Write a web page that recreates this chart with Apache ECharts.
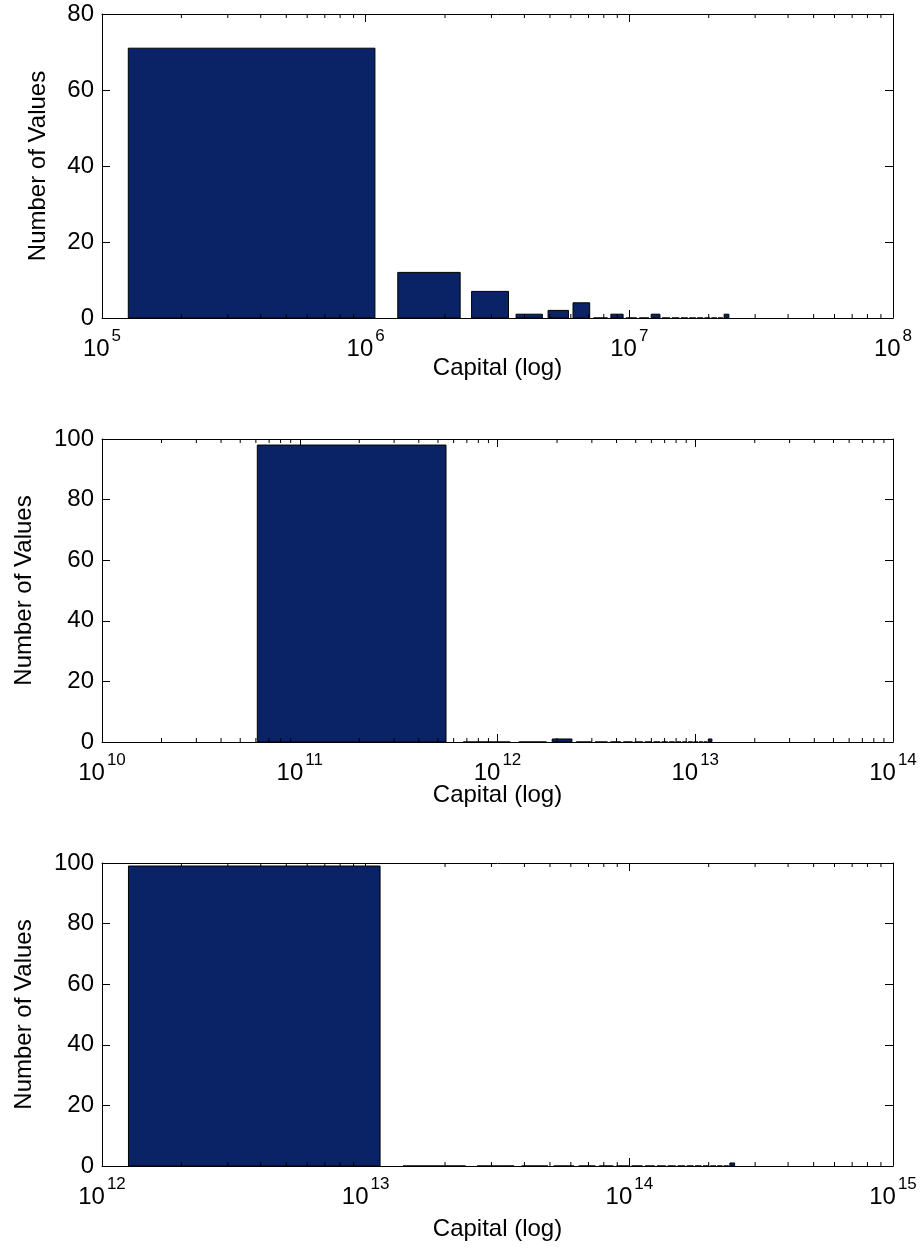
<!DOCTYPE html>
<html>
<head>
<meta charset="utf-8">
<script src="https://cdn.jsdelivr.net/npm/echarts@6/dist/echarts.min.js"></script>
<style>
  html, body { margin: 0; padding: 0; background: #fff; }
  #chart { width: 922px; height: 1251px; }
</style>
</head>
<body>
<div id="chart"></div>
<script>
// bin centres (linear bins, drawn on a log axis) and counts for each panel
const centers1 = [0.605e6, 1.803e6, 3.001e6, 4.199e6, 5.397e6, 6.595e6, 7.793e6, 8.991e6, 10.189e6, 11.387e6,
  12.585e6, 13.783e6, 14.981e6, 16.179e6, 17.377e6, 18.575e6, 19.773e6, 20.971e6, 22.169e6, 23.367e6];
const counts1 = [71, 12, 7, 1, 2, 4, 0, 1, 0, 0, 1, 0, 0, 0, 0, 0, 0, 0, 0, 1];

const centers2 = [0.305e12, 0.915e12, 1.525e12, 2.135e12, 2.745e12, 3.355e12, 3.965e12, 4.575e12,
  5.185e12, 5.795e12, 6.405e12, 7.015e12, 7.625e12, 8.235e12, 8.845e12, 9.455e12,
  10.065e12, 10.675e12, 11.285e12, 11.895e12];
const counts2 = [98, 0, 0, 1, 0, 0, 0, 0, 0, 0, 0, 0, 0, 0, 0, 0, 0, 0, 0, 1];

const centers3 = [6.3e12, 18.9e12, 31.5e12, 44.1e12, 56.7e12, 69.3e12, 81.9e12, 94.5e12,
  107.1e12, 119.7e12, 132.3e12, 144.9e12, 157.5e12, 170.1e12, 182.7e12, 195.3e12,
  207.9e12, 220.5e12, 233.1e12, 245.7e12];
const counts3 = [99, 0, 0, 0, 0, 0, 0, 0, 0, 0, 0, 0, 0, 0, 0, 0, 0, 0, 0, 1];

// axis ranges
const xRanges = [[1e5, 1e8], [1e10, 1e14], [1e12, 1e15]];
const yMax = [80, 100, 100];
const yTickStep = 20;

const xTitle = "Capital (log)";
const yTitle = "Number of Values";

const font = "Liberation Sans, Arial, sans-serif";
const barColor = "#0a2366";

const panels = [
  { centers: centers1, counts: counts1, top: 14, height: 304, xNameGap: 38, yNameGap: 52 },
  { centers: centers2, counts: counts2, top: 439, height: 303, xNameGap: 41, yNameGap: 66 },
  { centers: centers3, counts: counts3, top: 863, height: 303, xNameGap: 51, yNameGap: 66 },
];

function expLabel(v) {
  const e = Math.round(Math.log10(v));
  return "{b|10}{s|" + e + "}";
}

function minorTicks(range) {
  const out = [];
  const lo = Math.round(Math.log10(range[0]));
  const hi = Math.round(Math.log10(range[1]));
  for (let d = lo; d < hi; d++) {
    for (let m = 2; m <= 9; m++) out.push(m * Math.pow(10, d));
  }
  return out;
}

const chart = echarts.init(document.getElementById("chart"));
const grid = [], xAxis = [], yAxis = [], series = [];

panels.forEach((p, i) => {
  grid.push({ left: 102, right: 29, top: p.top, height: p.height });

  xAxis.push({
    type: "log", gridIndex: i, min: xRanges[i][0], max: xRanges[i][1], logBase: 10,
    position: "bottom",
    name: xTitle, nameLocation: "middle", nameGap: p.xNameGap, nameMoveOverlap: false,
    nameTextStyle: { fontFamily: font, fontSize: 24, color: "#000" },
    axisLine: { onZero: false, lineStyle: { color: "#000", width: 1 } },
    axisTick: { inside: true, length: 8, lineStyle: { color: "#000" } },
    axisLabel: {
      margin: 10, formatter: expLabel, color: "#000",
      rich: {
        b: { fontFamily: font, fontSize: 24, color: "#000", verticalAlign: "bottom", lineHeight: 33 },
        s: { fontFamily: font, fontSize: 17, color: "#000", verticalAlign: "top", lineHeight: 33, padding: [0, 0, 0, 2] },
      },
    },
    splitLine: { show: false },
  });
  xAxis.push({
    type: "log", gridIndex: i, min: xRanges[i][0], max: xRanges[i][1], logBase: 10,
    position: "top",
    axisLine: { onZero: false, lineStyle: { color: "#000", width: 1 } },
    axisTick: { inside: true, length: 8, lineStyle: { color: "#000" } },
    axisLabel: { show: false },
    splitLine: { show: false },
  });

  yAxis.push({
    type: "value", gridIndex: i, min: 0, max: yMax[i], interval: yTickStep,
    position: "left",
    name: yTitle, nameLocation: "middle", nameGap: p.yNameGap, nameRotate: 90, nameMoveOverlap: false,
    nameTextStyle: { fontFamily: font, fontSize: 24, color: "#000" },
    axisLine: { show: true, onZero: false, lineStyle: { color: "#000", width: 1 } },
    axisTick: { show: true, inside: true, length: 8, lineStyle: { color: "#000" } },
    axisLabel: { fontFamily: font, fontSize: 24, color: "#000", margin: 8 },
    splitLine: { show: false },
  });
  yAxis.push({
    type: "value", gridIndex: i, min: 0, max: yMax[i], interval: yTickStep,
    position: "right",
    axisLine: { show: true, onZero: false, lineStyle: { color: "#000", width: 1 } },
    axisTick: { show: true, inside: true, length: 8, lineStyle: { color: "#000" } },
    axisLabel: { show: false },
    splitLine: { show: false },
  });

  const spacing = p.centers[1] - p.centers[0];
  const barW = spacing * 0.8;

  series.push({
    type: "custom",
    xAxisIndex: 2 * i, yAxisIndex: 2 * i,
    data: p.centers.map((c, k) => [c, p.counts[k]]),
    renderItem: (params, api) => {
      const c = api.value(0), n = api.value(1);
      const a = api.coord([c - barW / 2, n]);
      const b = api.coord([c + barW / 2, 0]);
      return {
        type: "rect",
        shape: { x: a[0], y: a[1], width: b[0] - a[0], height: b[1] - a[1] },
        style: { fill: barColor, stroke: "#000", lineWidth: 1 },
      };
    },
    clip: false,
    silent: true,
  });

  // MATLAB-style minor ticks at 2..9 x 10^n, bottom and top
  series.push({
    type: "custom",
    xAxisIndex: 2 * i, yAxisIndex: 2 * i,
    data: minorTicks(xRanges[i]).map(v => [v]),
    renderItem: (params, api) => {
      const v = api.value(0);
      const b = api.coord([v, 0]);
      const t = api.coord([v, yMax[i]]);
      return {
        type: "group",
        children: [
          { type: "line", shape: { x1: b[0], y1: b[1], x2: b[0], y2: b[1] - 4 }, style: { stroke: "#000", lineWidth: 1 } },
          { type: "line", shape: { x1: t[0], y1: t[1], x2: t[0], y2: t[1] + 4 }, style: { stroke: "#000", lineWidth: 1 } },
        ],
      };
    },
    silent: true,
  });
});

chart.setOption({
  animation: false,
  backgroundColor: "#fff",
  grid, xAxis, yAxis, series,
});
</script>
</body>
</html>
